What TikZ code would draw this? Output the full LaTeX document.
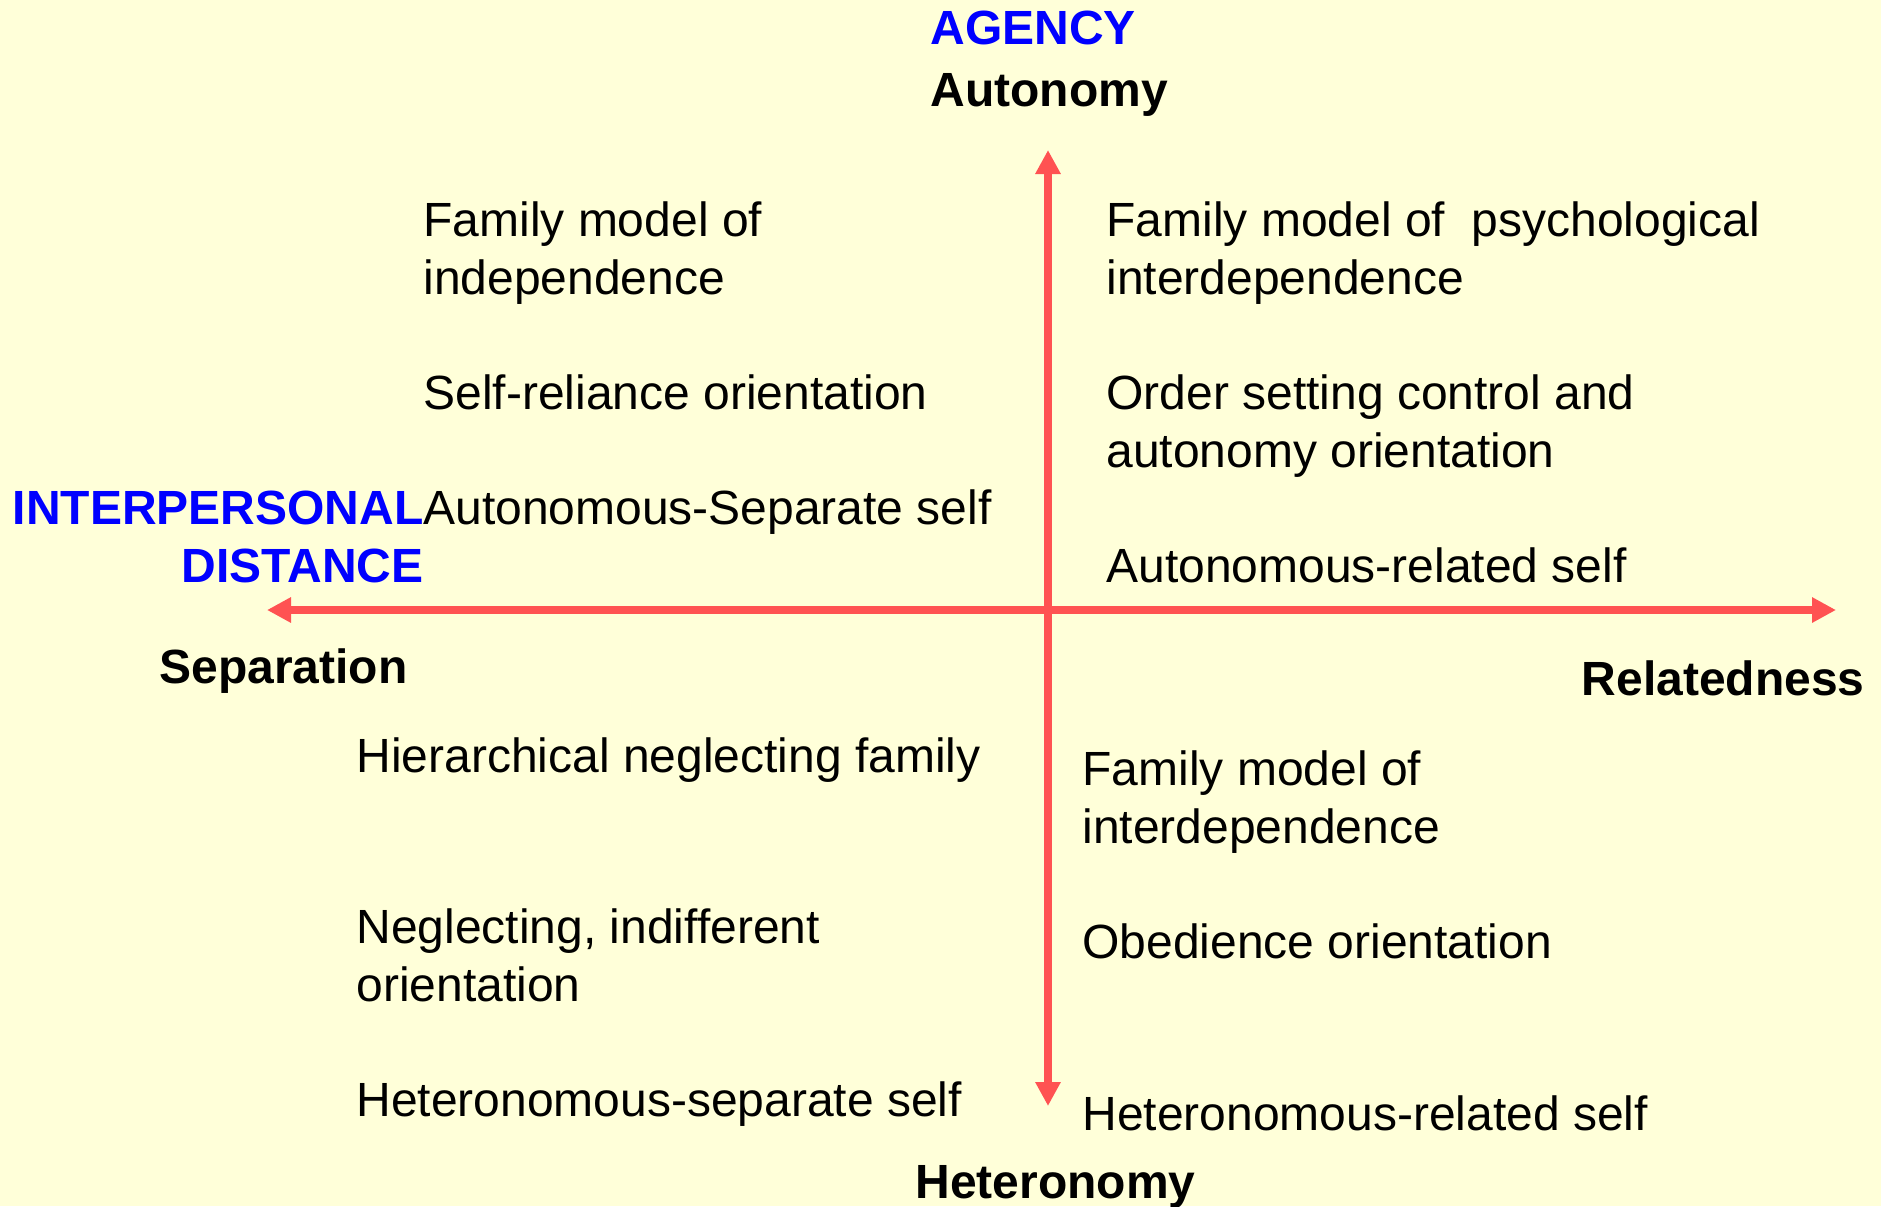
\documentclass[tikz,border=0pt]{standalone}
\usepackage{fontspec}
\setmainfont{Liberation Sans}
\usetikzlibrary{arrows.meta}
\definecolor{bgyellow}{HTML}{FFFFD9}
\definecolor{axisred}{HTML}{FF5252}
\definecolor{labelblue}{HTML}{0000FF}
\tikzset{
  txt/.style={inner sep=0pt, anchor=base west, align=left, font=\fontsize{24}{28.8}\selectfont},
  bold/.style={txt, font=\fontsize{24}{28.8}\selectfont\bfseries},
  blue/.style={bold, text=labelblue},
  axis/.style={draw=axisred, line width=4pt, {Triangle[width=12pt,length=12pt]}-{Triangle[width=12pt,length=12pt]}}
}
\begin{document}
\begin{tikzpicture}[x=0.5pt,y=-0.5pt]
\fill[bgyellow] (0,0) rectangle (1881,1206);
\useasboundingbox (0,0) rectangle (1881,1206);
% axes
\coordinate (top) at (1048,150);
\coordinate (bottom) at (1048,1106);
\coordinate (left) at (267,610);
\coordinate (right) at (1836,610);
\draw[axis] (bottom) -- (top);
\draw[axis] (left) -- (right);
% axis labels (multi-line nodes: base = baseline of last line)
\node[blue] (agency) at (930,44) {AGENCY};
\node[bold] (autonomy) at (930,106) {Autonomy};
\node[blue, anchor=base east, align=right] (distance) at (424,582) {INTERPERSONAL\\DISTANCE};
\node[bold] (separation) at (159,683) {Separation};
\node[bold, anchor=base east] (relatedness) at (1865,695) {Relatedness};
\node[bold] (heteronomy) at (915,1198) {Heteronomy};
% top-left
\node[txt] (tl1) at (423,294) {Family model of\\independence};
\node[txt] (tl2) at (423,409) {Self-reliance orientation};
\node[txt] (tl3) at (423,524) {Autonomous-Separate self};
% top-right
\node[txt] (tr1) at (1106,294) {Family model of\ \ psychological\\interdependence};
\node[txt] (tr2) at (1106,467) {Order setting control and\\autonomy orientation};
\node[txt] (tr3) at (1106,582) {Autonomous-related self};
% bottom-left
\node[txt] (bl1) at (356,772) {Hierarchical neglecting family};
\node[txt] (bl2) at (356,1001) {Neglecting, indifferent\\orientation};
\node[txt] (bl3) at (356,1116) {Heteronomous-separate self};
% bottom-right
\node[txt] (br1) at (1082,843) {Family model of\\interdependence};
\node[txt] (br2) at (1082,958) {Obedience orientation};
\node[txt] (br3) at (1082,1130) {Heteronomous-related self};
\end{tikzpicture}
\end{document}
